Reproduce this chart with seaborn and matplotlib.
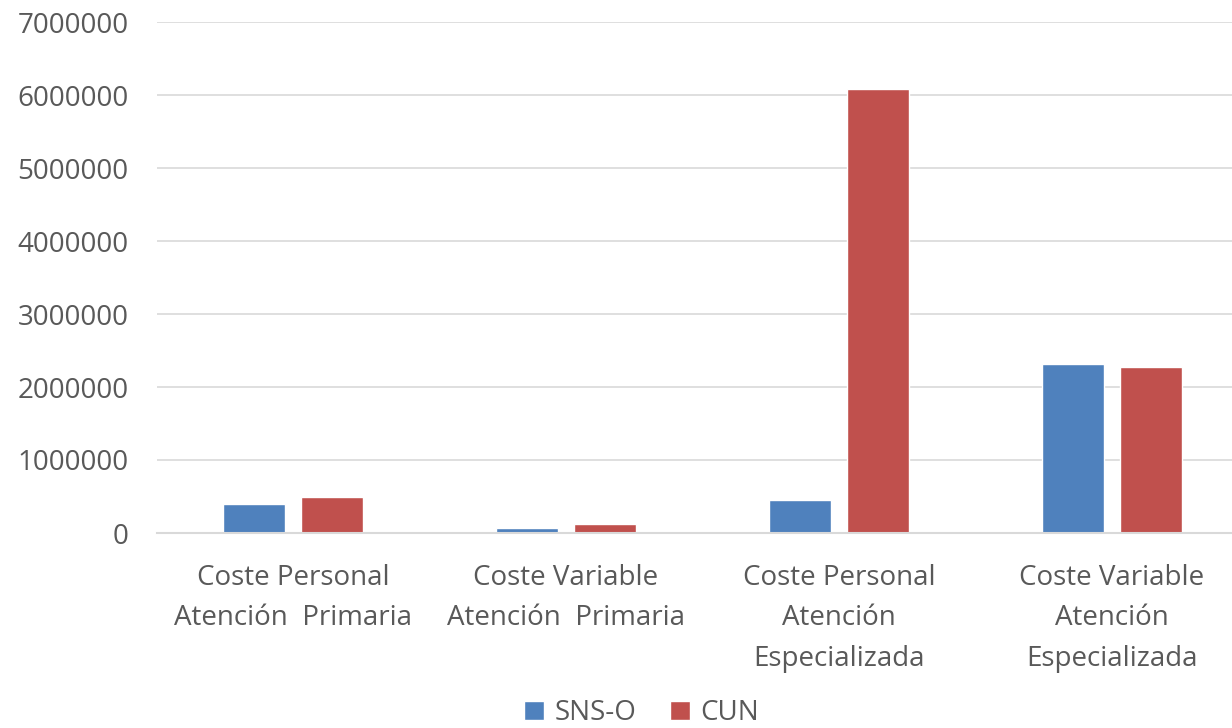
import pandas as pd
import matplotlib
matplotlib.use("Agg")
import matplotlib.pyplot as plt
import seaborn as sns

# Chart data
categories = [
    "Coste Personal\nAtención  Primaria",
    "Coste Variable\nAtención  Primaria",
    "Coste Personal\nAtención\nEspecializada",
    "Coste Variable\nAtención\nEspecializada",
]
series_names = ["SNS-O", "CUN"]
sns_o = [400000, 65000, 450000, 2310000]
cun = [490000, 125000, 6080000, 2270000]
y_ticks = [0, 1000000, 2000000, 3000000, 4000000, 5000000, 6000000, 7000000]

colors = {"SNS-O": "#4F81BD", "CUN": "#C0504D"}

df = pd.DataFrame({
    "Categoria": categories * 2,
    "Serie": [series_names[0]] * 4 + [series_names[1]] * 4,
    "Valor": sns_o + cun,
})

sns.set_theme(style="white")
plt.rcParams['font.family'] = ['Open Sans', 'DejaVu Sans']

fig = plt.figure(figsize=(12.32, 7.28), dpi=100)
ax = fig.add_axes([156.5 / 1232, 195 / 728, 1092 / 1232, 511 / 728])

sns.barplot(data=df, x="Categoria", y="Valor", hue="Serie", order=categories,
            hue_order=series_names, palette=colors, width=0.571, gap=0.205,
            saturation=1, ax=ax, legend=True)

ax.set_ylim(0, 7000000)
ax.set_xlim(-0.5, 3.5)
ax.set_yticks(y_ticks)
ax.set_yticklabels([str(v) for v in y_ticks])
ax.yaxis.grid(True, color="#D9D9D9", lw=1.2)
ax.set_axisbelow(True)
ax.set_xlabel("")
ax.set_ylabel("")

for s in ["top", "right", "left"]:
    ax.spines[s].set_visible(False)
ax.spines["bottom"].set_color("#D9D9D9")
ax.spines["bottom"].set_linewidth(1.5)

ax.tick_params(axis="y", length=0, pad=20, labelsize=20, labelcolor="#595959")
ax.tick_params(axis="x", length=0, pad=22, labelsize=20, labelcolor="#595959")
for t in ax.get_xticklabels():
    t.set_linespacing(1.6)

# Legend at the bottom center
handles, labels = ax.get_legend_handles_labels()
ax.get_legend().remove()
fig.legend(handles, labels, loc="center", bbox_to_anchor=(0.521, 0.02), ncol=2,
           frameon=False, fontsize=20, labelcolor="#595959", handlelength=0.7,
           handleheight=0.7, handletextpad=0.4, columnspacing=1.2)

fig.savefig("out.png", dpi=100)
